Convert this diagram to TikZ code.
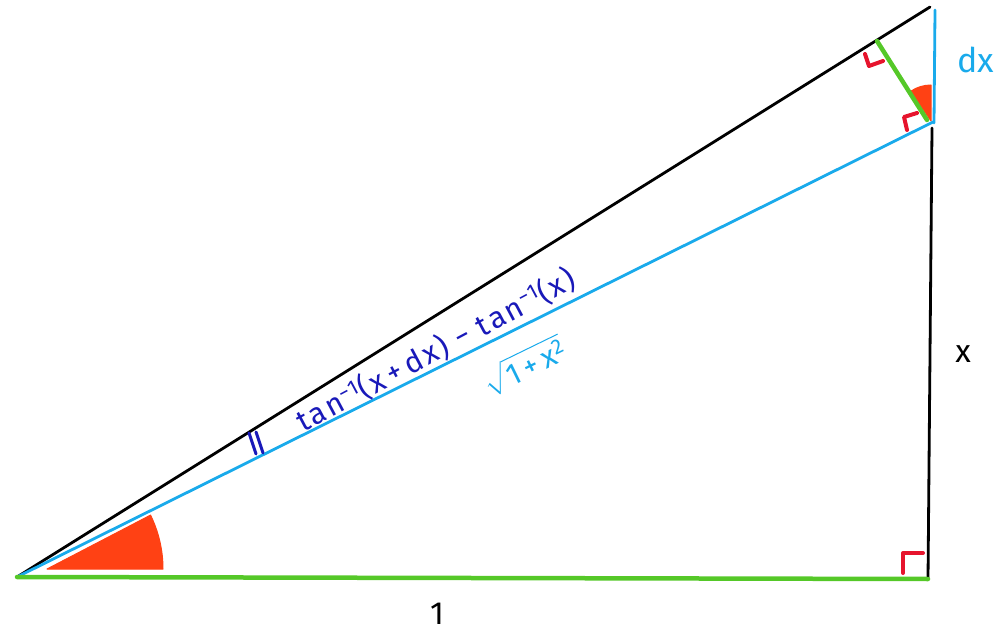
\documentclass[tikz,border=0pt]{standalone}
\usepackage{amsmath}
\usepackage{fontspec}
\setmainfont{Fira Sans}
\definecolor{cyanline}{RGB}{25,170,235}
\definecolor{textblue}{RGB}{25,25,185}
\definecolor{greenline}{RGB}{85,200,40}
\definecolor{redfill}{RGB}{255,65,20}
\definecolor{redmark}{RGB}{230,20,45}
\tikzset{
  blackline/.style={draw=black, line width=2.8pt},
  blueline/.style={draw=cyanline, line width=2.8pt},
  greenstroke/.style={draw=greenline, line width=4.5pt},
  rightmark/.style={draw=redmark, line width=4pt},
  wedge/.style={fill=redfill, draw=redfill, line width=1pt},
  tick/.style={draw=textblue, line width=3pt},
}
\begin{document}
\begin{tikzpicture}[x=1pt,y=1pt,line cap=round,line join=round]
\useasboundingbox (0,0) rectangle (995,635);
% vertices
\coordinate (A) at (17,58);
\coordinate (B) at (928,56);
\coordinate (C) at (933,513);
\coordinate (Cb) at (932,507);
\coordinate (Cv) at (934,512);
\coordinate (D) at (930,628);
\coordinate (Dt) at (935,625);
\coordinate (F) at (877,594);
\coordinate (G) at (927,515);
% wedges
\fill[wedge] (47,66) -- (163,66) arc[start angle=0,end angle=26,radius=123] -- cycle;
\fill[wedge] (931,514) -- (931,550) arc[start angle=90,end angle=124,radius=36] -- cycle;
% main lines
\draw[blackline] (A) -- (D);
\draw[blueline] (A) -- (C);
\draw[blueline] (Cv) -- (Dt);
\draw[blackline] (B) -- (Cb);
\draw[greenstroke] (A) -- (B);
\draw[greenstroke] (F) -- (G);
% right-angle marks
\coordinate (m1a) at (903,62); \coordinate (m1b) at (903,82); \coordinate (m1c) at (923,82);
\draw[rightmark] (m1a) -- (m1b) -- (m1c);
\coordinate (m2a) at (865,581); \coordinate (m2b) at (869,569); \coordinate (m2c) at (883,574);
\draw[rightmark] (m2a) -- (m2b) -- (m2c);
\coordinate (m3a) at (907,505); \coordinate (m3b) at (904,518); \coordinate (m3c) at (917,522);
\draw[rightmark] (m3a) -- (m3b) -- (m3c);
% equality ticks
\coordinate (t1a) at (249,202); \coordinate (t1b) at (256,181);
\coordinate (t2a) at (256,203); \coordinate (t2b) at (263,182);
\draw[tick] (t1a) -- (t1b);
\draw[tick] (t2a) -- (t2b);
% labels
\node[text=textblue, rotate=28, font=\fontsize{30}{34}\selectfont\addfontfeatures{LetterSpace=8}, inner sep=0pt] (diff) at (436,285)
  {tan\textsuperscript{−1}(x\,+\,dx)\,\,−\,\,tan\textsuperscript{−1}(x)};
\node[text=cyanline, rotate=26, font=\fontsize{30}{34}\selectfont\addfontfeatures{LetterSpace=10}, inner sep=0pt] (hyp) at (524,269)
  {$\sqrt{\text{1\,+\,x\textsuperscript{2}}}$};
\node[text=cyanline, font=\fontsize{34}{40}\selectfont, inner sep=0pt] (dx) at (976,575) {dx};
\node[text=black, font=\fontsize{32}{38}\selectfont, inner sep=0pt] (xlab) at (963,281) {x};
\node[text=black, font=\fontsize{32}{38}\selectfont, inner sep=0pt] (one) at (437,21) {1};
\end{tikzpicture}
\end{document}
